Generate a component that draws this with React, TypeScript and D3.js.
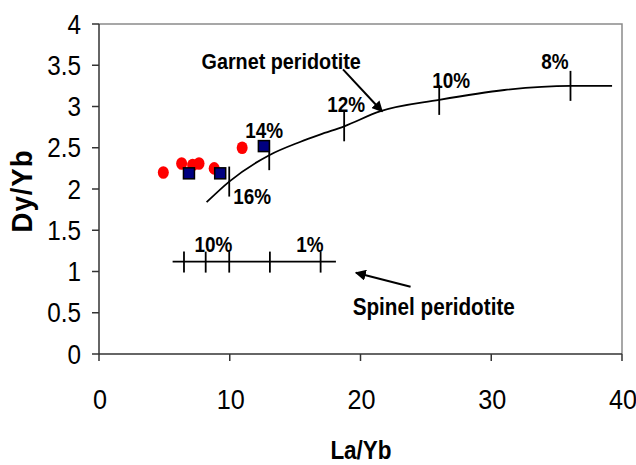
import React from "react";
import * as d3 from "d3";

// ---- data ----
const redLaYb = [4.92, 6.32, 7.16, 7.65, 8.81, 10.95];
const redDyYb = [2.2, 2.31, 2.29, 2.31, 2.25, 2.5];
const blueLaYb = [6.88, 9.27, 12.61];
const blueDyYb = [2.19, 2.19, 2.52];

const garnetLaYb = [8.23, 9.96, 13.02, 15.37, 16.9, 18.75, 21.48, 26.02, 31.0, 36.06, 39.24];
const garnetDyYb = [1.84, 2.09, 2.41, 2.57, 2.66, 2.76, 2.94, 3.08, 3.2, 3.25, 3.25];
const garnetTickLaYb = [9.96, 13.02, 18.75, 26.02, 36.06];
const garnetTickLabels = ["16%", "14%", "12%", "10%", "8%"];

const spinelLaYb = [5.63, 18.12];
const spinelDyYb = [1.12, 1.12];
const spinelTickLaYb = [6.5, 8.16, 9.96, 13.07, 16.95];
const spinelLabelAt = [9.96, 16.95];
const spinelLabels = ["10%", "1%"];

const xTicks = [0, 10, 20, 30, 40];
const yTicks = [0, 0.5, 1, 1.5, 2, 2.5, 3, 3.5, 4];

// ---- layout / style ----
const W = 636;
const H = 465;
const left = 99;
const right = 622;
const top = 24;
const bottom = 354;
const FONT = "'Liberation Sans', Arial, sans-serif";

// garnet label offsets (px) relative to tick point on curve
const garnetLabelOffsets = [
  { dx: 4, dy: 22, anchor: "start" },
  { dx: -5, dy: -17, anchor: "middle" },
  { dx: 2, dy: -14, anchor: "middle" },
  { dx: 12, dy: -12, anchor: "middle" },
  { dx: -2, dy: -17, anchor: "end" },
];

function Label({ x, y, size, weight = "normal", anchor = "start", sx = 0.9, children }: any) {
  return (
    <text
      transform={`translate(${x},${y}) scale(${sx},1)`}
      fontFamily={FONT}
      fontSize={size}
      fontWeight={weight}
      textAnchor={anchor}
      fill="#000"
    >
      {children}
    </text>
  );
}

export default function App() {
  const x = d3.scaleLinear().domain([0, 40]).range([left, right]);
  const y = d3.scaleLinear().domain([0, 4]).range([bottom, top]);
  const curveY = d3.scaleLinear().domain(garnetLaYb).range(garnetDyYb);

  const garnetPath = d3
    .line<number>()
    .x((d) => x(d))
    .y((_, i) => y(garnetDyYb[i]))
    .curve(d3.curveMonotoneX)(garnetLaYb) as string;

  const spinelPath = d3
    .line<number>()
    .x((d) => x(d))
    .y((_, i) => y(spinelDyYb[i]))(spinelLaYb) as string;

  const axisColor = "#333";
  const borderColor = "#8a8a8a";

  return (
    <svg
      width={W}
      height={H}
      style={{ position: "absolute", left: 0, top: 0, background: "#fff" }}
    >
      <defs>
        <marker
          id="arrow"
          viewBox="0 0 10 10"
          refX="9"
          refY="5"
          markerWidth="11"
          markerHeight="11"
          markerUnits="userSpaceOnUse"
          orient="auto"
        >
          <path d="M0,0 L10,5 L0,10 z" fill="#000" />
        </marker>
      </defs>
      <rect x={0} y={0} width={W} height={H} fill="#fff" />

      {/* border top & right */}
      <path
        d={`M${left},${top} H${right} V${bottom}`}
        fill="none"
        stroke={borderColor}
        strokeWidth={1.5}
      />
      {/* axes */}
      <line x1={left} x2={left} y1={top} y2={bottom} stroke={axisColor} strokeWidth={1.5} />
      <line x1={left} x2={right} y1={bottom} y2={bottom} stroke={axisColor} strokeWidth={1.5} />

      {yTicks.map((t) => (
        <g key={"y" + t}>
          <line x1={left - 7} x2={left} y1={y(t)} y2={y(t)} stroke={axisColor} strokeWidth={1.5} />
          <Label x={81} y={y(t) + 9.5} size={27} anchor="end">
            {String(t)}
          </Label>
        </g>
      ))}
      {xTicks.map((t) => (
        <g key={"x" + t}>
          <line x1={x(t)} x2={x(t)} y1={bottom} y2={bottom + 7} stroke={axisColor} strokeWidth={1.5} />
          <Label x={x(t) + 1} y={409} size={28} anchor="middle">
            {String(t)}
          </Label>
        </g>
      ))}

      {/* axis titles */}
      <text
        transform={`translate(32,191) rotate(-90) scale(0.95,1)`}
        fontFamily={FONT}
        fontSize={29}
        fontWeight="bold"
        textAnchor="middle"
        letterSpacing={1}
      >
        Dy/Yb
      </text>
      <Label x={361} y={459} size={25} weight="bold" anchor="middle">
        La/Yb
      </Label>

      {/* garnet curve */}
      <path d={garnetPath} fill="none" stroke="#000" strokeWidth={1.8} />
      {garnetTickLaYb.map((t, i) => {
        const cx = x(t);
        const cy = y(curveY(t));
        const o = garnetLabelOffsets[i];
        return (
          <g key={"gt" + i}>
            <line x1={cx} x2={cx} y1={cy - 15} y2={cy + 15} stroke="#000" strokeWidth={1.8} />
            <Label x={cx + o.dx} y={cy + o.dy} size={22} sx={0.86} weight="bold" anchor={o.anchor}>
              {garnetTickLabels[i]}
            </Label>
          </g>
        );
      })}

      {/* spinel line */}
      <path d={spinelPath} fill="none" stroke="#000" strokeWidth={1.8} />
      {spinelTickLaYb.map((t, i) => (
        <line
          key={"st" + i}
          x1={x(t)}
          x2={x(t)}
          y1={y(spinelDyYb[0]) - 10}
          y2={y(spinelDyYb[0]) + 11}
          stroke="#000"
          strokeWidth={1.8}
        />
      ))}
      {spinelLabelAt.map((t, i) => (
        <Label
          key={"sl" + i}
          x={x(t) + 3}
          y={y(spinelDyYb[0]) - 10}
          size={22}
          sx={0.86}
          weight="bold"
          anchor="end"
        >
          {spinelLabels[i]}
        </Label>
      ))}

      {/* annotations */}
      <Label x={x(7.84)} y={y(3.45)} size={22} weight="bold">
        Garnet peridotite
      </Label>
      <line
        x1={x(18.66)}
        y1={y(3.45)}
        x2={x(21.66)}
        y2={y(2.94)}
        stroke="#000"
        strokeWidth={2}
        markerEnd="url(#arrow)"
      />
      <Label x={x(19.4)} y={y(0.47)} size={23} weight="bold">
        Spinel peridotite
      </Label>
      <line
        x1={x(23.83)}
        y1={y(0.815)}
        x2={x(19.65)}
        y2={y(0.985)}
        stroke="#000"
        strokeWidth={2}
        markerEnd="url(#arrow)"
      />

      {/* data points */}
      {redLaYb.map((v, i) => (
        <ellipse key={"r" + i} cx={x(v)} cy={y(redDyYb[i])} rx={5.5} ry={6.3} fill="#ff0000" />
      ))}
      {blueLaYb.map((v, i) => (
        <rect
          key={"b" + i}
          x={x(v) - 5.5}
          y={y(blueDyYb[i]) - 5.5}
          width={11}
          height={11}
          fill="#000080"
          stroke="#000"
          strokeWidth={1.5}
        />
      ))}
    </svg>
  );
}
